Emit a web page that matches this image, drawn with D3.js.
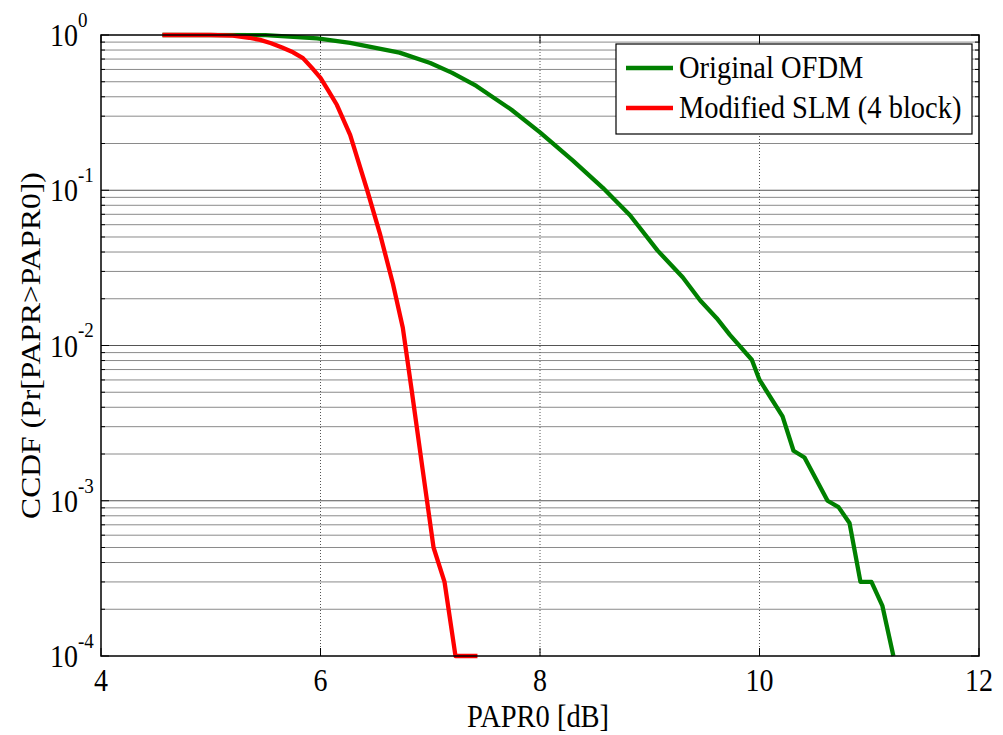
<!DOCTYPE html>
<html>
<head>
<meta charset="utf-8">
<script src="https://cdn.jsdelivr.net/npm/d3@7"></script>
<style>
  html, body { margin: 0; padding: 0; background: #fff; }
  svg text { font-family: "Liberation Serif", "Times New Roman", serif; fill: #000; }
</style>
</head>
<body>
<svg id="chart" width="1003" height="735"></svg>
<script>
// CCDF of PAPR: PAPR0 threshold (dB) vs probability
const originalX = [4.56, 5.5, 5.97, 6.27, 6.72, 7.0, 7.2, 7.42, 7.74, 8.0, 8.3, 8.57, 8.82, 9.07, 9.3, 9.46, 9.61, 9.73, 9.93, 10.0, 10.21, 10.31, 10.41, 10.62, 10.72, 10.82, 10.92, 11.02, 11.12, 11.22];
const originalY = [1.0, 0.998, 0.95, 0.89, 0.77, 0.66, 0.57, 0.47, 0.33, 0.236, 0.155, 0.104, 0.069, 0.041, 0.0275, 0.0195, 0.015, 0.0117, 0.0081, 0.006, 0.0035, 0.0021, 0.0019, 0.001, 0.00091, 0.00072, 0.0003, 0.0003, 0.00021, 0.0001];

const slmX = [4.56, 5.0, 5.2, 5.35, 5.45, 5.55, 5.65, 5.75, 5.84, 5.92, 6.0, 6.07, 6.15, 6.27, 6.42, 6.54, 6.66, 6.75, 6.83, 6.93, 7.03, 7.13, 7.23, 7.43];
const slmY = [1.0, 1.0, 0.99, 0.96, 0.93, 0.885, 0.83, 0.774, 0.71, 0.616, 0.53, 0.44, 0.354, 0.227, 0.103, 0.053, 0.025, 0.013, 0.0052, 0.0016, 0.0005, 0.0003, 0.0001, 0.0001];

const seriesNames = ["Original OFDM", "Modified SLM (4 block)"];
const seriesColors = ["#008000", "#ff0000"];

const xTicks = [4, 6, 8, 10, 12];
const yDecades = [0, -1, -2, -3, -4];

const margin = { left: 101, top: 35, right: 24, bottom: 79 };
const W = 1003, H = 735;
const stretch = 1.13; // text is drawn slightly taller than wide
const svg = d3.select("#chart");

const x = d3.scaleLinear().domain([4, 12]).range([margin.left, W - margin.right]);
const y = d3.scaleLog().domain([1e-4, 1]).range([H - margin.bottom, margin.top]);

const x0 = x.range()[0], x1 = x.range()[1];
const y0 = y.range()[0], y1 = y.range()[1];

// minor/major log values for horizontal grid
const logVals = [];
for (let e = -4; e < 0; e++) {
  for (let m = 1; m <= 9; m++) logVals.push(m * Math.pow(10, e));
}
logVals.push(1);
const isMajor = v => Math.abs(Math.log10(v) - Math.round(Math.log10(v))) < 1e-9;

const grid = svg.append("g");
grid.selectAll("line.h").data(logVals.filter(v => v > 1e-4 && v < 1)).enter()
  .append("line")
  .attr("x1", x0).attr("x2", x1)
  .attr("y1", d => y(d)).attr("y2", d => y(d))
  .attr("stroke", d => isMajor(d) ? "#555" : "#8a8a8a")
  .attr("stroke-width", 1);

grid.selectAll("line.v").data(xTicks.filter(t => t > 4 && t < 12)).enter()
  .append("line")
  .attr("x1", d => x(d)).attr("x2", d => x(d))
  .attr("y1", y0).attr("y2", y1)
  .attr("stroke", "#555")
  .attr("stroke-width", 1)
  .attr("stroke-dasharray", "1,2");

// tick marks (inside, on all four sides)
const ticks = svg.append("g").attr("stroke", "#000").attr("stroke-width", 1);
xTicks.forEach(t => {
  ticks.append("line").attr("x1", x(t)).attr("x2", x(t)).attr("y1", y0).attr("y2", y0 - 8);
  ticks.append("line").attr("x1", x(t)).attr("x2", x(t)).attr("y1", y1).attr("y2", y1 + 8);
});
logVals.forEach(v => {
  const len = isMajor(v) ? 8 : 4;
  ticks.append("line").attr("x1", x0).attr("x2", x0 + len).attr("y1", y(v)).attr("y2", y(v));
  ticks.append("line").attr("x1", x1).attr("x2", x1 - len).attr("y1", y(v)).attr("y2", y(v));
});

// series lines
const line = d3.line().x(d => x(d[0])).y(d => y(d[1]));
const seriesData = [
  d3.zip(originalX, originalY),
  d3.zip(slmX, slmY)
];
svg.append("g").selectAll("path").data(seriesData).enter()
  .append("path")
  .attr("d", line)
  .attr("fill", "none")
  .attr("stroke", (d, i) => seriesColors[i])
  .attr("stroke-width", 4.3)
  .attr("stroke-linejoin", "round");

// axes box
svg.append("rect")
  .attr("x", x0).attr("y", y1)
  .attr("width", x1 - x0).attr("height", y0 - y1)
  .attr("fill", "none").attr("stroke", "#000").attr("stroke-width", 1.5);

// text placed at (tx, ty) with vertical stretch about its baseline
function label(parent, tx, ty, size, anchor) {
  return parent.append("g")
    .attr("transform", `translate(${tx},${ty}) scale(1,${stretch})`)
    .append("text")
    .attr("text-anchor", anchor || "start")
    .attr("font-size", size);
}

// x tick labels
const xl = svg.append("g");
xTicks.forEach(t => label(xl, x(t), y0 + 35, 28, "middle").text(t));

// y tick labels as 10^e
const yl = svg.append("g");
yDecades.forEach(e => {
  const ty = y(Math.pow(10, e));
  const t = label(yl, 50, ty + 11, 28, "start");
  t.append("tspan").text("10");
  t.append("tspan").attr("dy", -17).attr("font-size", 19).text(String(e));
});

// axis titles
label(svg, 538, 727, 28.5, "middle").text("PAPR0 [dB]");

svg.append("g")
  .attr("transform", `translate(40,${(y0 + y1) / 2}) scale(1,${stretch}) rotate(-90)`)
  .append("text")
  .attr("text-anchor", "middle")
  .attr("font-size", 28)
  .text("CCDF (Pr[PAPR>PAPR0])");

// legend
const lg = svg.append("g");
lg.append("rect")
  .attr("x", 616).attr("y", 44).attr("width", 356).attr("height", 90)
  .attr("fill", "#fff").attr("stroke", "#000").attr("stroke-width", 1.2);
seriesNames.forEach((name, i) => {
  const ly = 68 + i * 40;
  lg.append("line")
    .attr("x1", 626).attr("x2", 673).attr("y1", ly).attr("y2", ly)
    .attr("stroke", seriesColors[i]).attr("stroke-width", 4.3);
  label(lg, 679, ly + 10, 28.5, "start").text(name);
});
</script>
</body>
</html>
